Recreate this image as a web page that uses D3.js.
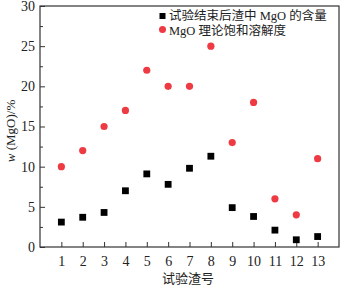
<!DOCTYPE html>
<html><head><meta charset="utf-8">
<script src="https://cdn.jsdelivr.net/npm/d3@7"></script>
<style>
body{margin:0;background:#fff;}
text{font-family:"Liberation Serif","Noto Sans CJK SC",serif;fill:#222;}
</style></head>
<body><svg id="c" width="344" height="287"></svg>
<script>
const slagNo = [1,2,3,4,5,6,7,8,9,10,11,12,13];
const mgoAfter = [3.1,3.7,4.3,7.0,9.1,7.8,9.8,11.3,4.9,3.8,2.1,0.9,1.3];
const mgoSat = [10,12,15,17,22,20,20,25,13,18,6,4,11];
const yTicks = [0,5,10,15,20,25,30];
const legendLabels = ["试验结束后渣中 MgO 的含量","MgO 理论饱和溶解度"];
const xTitle = "试验渣号";

const svg = d3.select("#c");
const L=40,R=339,T=6,B=247;
const x = d3.scaleLinear().domain([0,14]).range([L,R]);
const y = d3.scaleLinear().domain([0,30]).range([B,T]);
const red = "#ee3a42";

// frame
svg.append("rect").attr("x",L).attr("y",T).attr("width",R-L).attr("height",B-T)
  .attr("fill","none").attr("stroke","#333").attr("stroke-width",1.2);

// y axis
const ya = svg.append("g").attr("transform",`translate(${L},0)`)
  .call(d3.axisLeft(y).tickValues(yTicks).tickSize(-5).tickPadding(5));
ya.select(".domain").remove();
ya.selectAll("text").attr("font-size",14).style("font-family","Liberation Serif");
ya.selectAll("line").attr("stroke","#333");
const ym = svg.append("g").attr("transform",`translate(${L},0)`)
  .call(d3.axisLeft(y).tickValues(d3.range(2.5,30,5)).tickSize(-3).tickFormat(""));
ym.select(".domain").remove();
ym.selectAll("line").attr("stroke","#333");

// x axis
const xa = svg.append("g").attr("transform",`translate(0,${B})`)
  .call(d3.axisBottom(x).tickValues(slagNo).tickSize(-5).tickPadding(9));
xa.select(".domain").remove();
xa.selectAll("text").attr("font-size",14).style("font-family","Liberation Serif");
xa.selectAll("line").attr("stroke","#333");

// titles
svg.append("text").attr("x",188).attr("y",283).attr("text-anchor","middle")
  .attr("font-size",13).text(xTitle);
const yt = svg.append("text").attr("transform","translate(15,131) rotate(-90)")
  .attr("text-anchor","middle").attr("font-size",13);
yt.append("tspan").attr("font-style","italic").text("w");
yt.append("tspan").text(" (MgO)/%");

// marks
svg.append("g").selectAll("circle").data(slagNo).join("circle")
  .attr("cx",d=>x(d)).attr("cy",(d,i)=>y(mgoSat[i])).attr("r",3.6).attr("fill",red);
svg.append("g").selectAll("rect").data(slagNo).join("rect")
  .attr("x",d=>x(d)-3.4).attr("y",(d,i)=>y(mgoAfter[i])-3.4)
  .attr("width",6.8).attr("height",6.8).attr("fill","#000");

// legend
svg.append("rect").attr("x",159.5).attr("y",13).attr("width",6).attr("height",6).attr("fill","#000");
svg.append("circle").attr("cx",162.5).attr("cy",29.5).attr("r",3.5).attr("fill",red);
svg.append("text").attr("x",169).attr("y",20).attr("font-size",12.5).text(legendLabels[0]);
svg.append("text").attr("x",169).attr("y",35).attr("font-size",12.5).text(legendLabels[1]);
</script></body></html>
